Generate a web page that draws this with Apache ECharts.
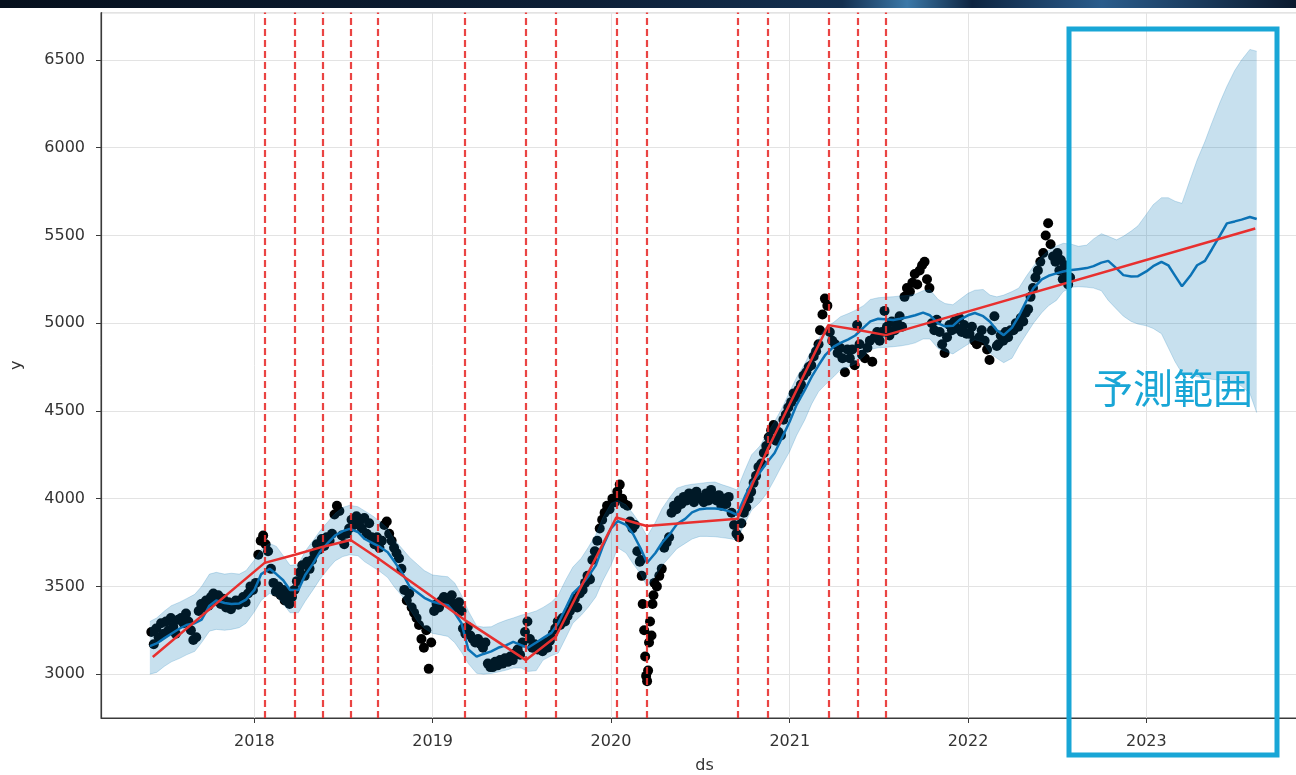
<!DOCTYPE html>
<html>
<head>
<meta charset="utf-8">
<script src="https://cdn.jsdelivr.net/npm/echarts@6/dist/echarts.min.js"></script>
<style>
    html, body { margin: 0; padding: 0; background: #ffffff; }
    #chart { width: 1296px; height: 775px; }
</style>
</head>
<body>
<div id="chart"></div>
<script>
// observed y, one row per month from 2017-06, samples spread over the month
const obs_start = [2017, 6];
const obs_rows = [
    [3240, 3170, 3260, 3210, 3290, 3230],
    [3300, 3250, 3320, 3270, 3230, 3310],
    [3320, 3290, 3345, 3300, 3250, 3195],
    [3210, 3360, 3400, 3380, 3420, 3390],
    [3440, 3460, 3420, 3450, 3400, 3430],
    [3380, 3410, 3370, 3400, 3420, 3395],
    [3420, 3440, 3410, 3460, 3500, 3480],
    [3520, 3680, 3760, 3790, 3740, 3700],
    [3600, 3520, 3470, 3500, 3450, 3480],
    [3420, 3460, 3400, 3440, 3480, 3530],
    [3580, 3620, 3560, 3640, 3600, 3650],
    [3690, 3740, 3710, 3770, 3730, 3780],
    [3760, 3800, 3910, 3960, 3930, 3790],
    [3740, 3800, 3830, 3880, 3850, 3900],
    [3870, 3830, 3890, 3800, 3860, 3780],
    [3740, 3780, 3720, 3760, 3850, 3870],
    [3800, 3760, 3720, 3690, 3660, 3600],
    [3480, 3420, 3460, 3380, 3350, 3320],
    [3280, 3200, 3150, 3250, 3030, 3180],
    [3360, 3400, 3380, 3420, 3440, 3410],
    [3430, 3450, 3400, 3380, 3410, 3360],
    [3260, 3230, 3270, 3220, 3200, 3180],
    [3200, 3170, 3150, 3180, 3060, 3040],
    [3040, 3070, 3050, 3080, 3060, 3090],
    [3070, 3100, 3080, 3120, 3140, 3110],
    [3180, 3240, 3300, 3200, 3150, 3170],
    [3140, 3160, 3130, 3180, 3150, 3190],
    [3230, 3260, 3300, 3280, 3320, 3300],
    [3330, 3360, 3400, 3430, 3380, 3460],
    [3480, 3520, 3560, 3540, 3650, 3700],
    [3760, 3830, 3880, 3920, 3960, 3940],
    [4000, 3980, 4040, 4080, 4000, 3970],
    [3960, 3870, 3830, 3850, 3700, 3640],
    [3650, 3560, 3400, 3250, 3100, 2990, 2960, 3020, 3180, 3300, 3220, 3400, 3450, 3520],
    [3500, 3560, 3600, 3720, 3750, 3780],
    [3920, 3960, 3940, 3990, 3970, 4010],
    [3990, 4030, 4000, 3980, 4040, 4010],
    [4000, 3980, 4030, 3990, 4050, 4010],
    [3990, 4020, 3960, 4000, 3970, 4010],
    [3920, 3850, 3800, 3780, 3860, 3920],
    [3950, 4000, 4040, 4090, 4130, 4180],
    [4200, 4260, 4300, 4350, 4390, 4420],
    [4330, 4380, 4360, 4450, 4480, 4520],
    [4550, 4600, 4580, 4620, 4650, 4700],
    [4720, 4750, 4760, 4810, 4840, 4880],
    [4960, 5050, 5140, 5100, 4950, 4900],
    [4880, 4830, 4860, 4800, 4720, 4850],
    [4800, 4850, 4760, 4990, 4880, 4820],
    [4800, 4860, 4900, 4780, 4920, 4950],
    [4900, 4950, 5070, 4980, 4930, 5010],
    [4960, 5000, 5040, 4980, 5150, 5200],
    [5180, 5230, 5280, 5220, 5300, 5330],
    [5350, 5250, 5200, 5000, 4960, 5020],
    [4950, 4880, 4830, 4920, 4990, 4960],
    [5010, 4970, 5030, 4950, 4990, 4940],
    [4940, 4980, 4900, 4880, 4920, 4960],
    [4900, 4850, 4790, 4960, 5040, 4870],
    [4880, 4930, 4900, 4950, 4920, 4960],
    [4960, 5000, 4980, 5030, 5010, 5060],
    [5080, 5150, 5200, 5260, 5300, 5350],
    [5400, 5500, 5570, 5450, 5380, 5350],
    [5400, 5300, 5360, 5250, 5330, 5270, 5220, 5260]
];

// forecast, two samples a month (1st and 15th) from 2017-06
const fc_start = [2017, 6];
const yhat = [
    3160, 3175, 3205, 3230, 3260, 3280, 3290, 3310, 3390, 3420, 3405, 3400, 3403, 3425,
    3480, 3570, 3600, 3570, 3535, 3480, 3480, 3565, 3630, 3695, 3750, 3790, 3815, 3828, 3810, 3770, 3745, 3725, 3695, 3640, 3570, 3498, 3465, 3435,
    3412, 3403, 3393, 3350, 3290, 3140, 3100, 3115, 3130, 3150, 3165, 3184, 3165, 3150, 3180, 3205, 3235, 3290, 3380, 3460, 3505, 3555, 3620, 3726,
    3830, 3872, 3850, 3800, 3720, 3635, 3690, 3750, 3800, 3855, 3885, 3922, 3940, 3944, 3944, 3940, 3926, 3908, 4010, 4090, 4150, 4205, 4260, 4340,
    4440, 4535, 4620, 4695, 4760, 4820, 4866, 4888, 4908, 4930, 4975, 5010, 5025, 5022, 5018, 5025, 5035, 5045, 5060, 5045, 4999, 4982, 4985, 5020,
    5045, 5058, 5040, 5008, 4960, 4932, 4975, 5040, 5130, 5200, 5250, 5270, 5284, 5295, 5303, 5308, 5314, 5325, 5345, 5355, 5312, 5274, 5266, 5268,
    5295, 5325, 5350, 5330, 5270, 5210, 5270, 5330, 5355, 5420, 5500, 5569, 5580, 5590, 5605, 5594
];
const yhat_upper = [
    3300, 3320, 3360, 3390, 3410, 3430, 3455, 3500, 3570, 3580, 3570, 3575, 3570, 3590,
    3650, 3710, 3745, 3728, 3675, 3620, 3625, 3700, 3760, 3815, 3870, 3915, 3950, 3962, 3954, 3930, 3900, 3870, 3830, 3765, 3710, 3665, 3625, 3590,
    3565, 3560, 3555, 3520, 3450, 3360, 3275, 3268, 3270, 3290, 3308, 3320, 3336, 3345, 3360, 3380, 3410, 3450, 3540, 3610, 3660, 3720, 3795, 3890,
    3973, 3990, 3965, 3915, 3855, 3785, 3865, 3945, 4010, 4060, 4075, 4082, 4087, 4092, 4095, 4080, 4065, 4050, 4160, 4250, 4300, 4370, 4440, 4510,
    4610, 4690, 4770, 4850, 4910, 4975, 5005, 5037, 5055, 5073, 5100, 5135, 5145, 5148, 5151, 5155, 5158, 5165, 5185, 5190, 5135, 5112, 5105, 5135,
    5170, 5188, 5192, 5160, 5150, 5160, 5180, 5200, 5270, 5325, 5380, 5415, 5440, 5455, 5450, 5438, 5445, 5480, 5510, 5495, 5475, 5495, 5525, 5555,
    5620, 5675, 5715, 5715, 5695, 5683, 5820, 5930, 6035, 6140, 6260, 6350, 6440, 6500, 6560, 6550
];
const yhat_lower = [
    3000, 3010, 3045, 3070, 3090, 3110, 3130, 3180, 3245, 3255, 3250, 3255, 3265, 3290,
    3355, 3420, 3460, 3445, 3400, 3350, 3350, 3415, 3480, 3540, 3600, 3645, 3670, 3680, 3675, 3640, 3610, 3585, 3550, 3495, 3440, 3370, 3300, 3260,
    3232, 3225, 3215, 3180, 3125, 3060, 3005, 3000, 3004, 3012, 3023, 3035, 3035, 3015, 3020, 3080, 3105, 3120, 3210, 3290, 3335, 3380, 3440, 3530,
    3620, 3720, 3690, 3630, 3574, 3500, 3560, 3620, 3670, 3715, 3745, 3770, 3785, 3785, 3783, 3778, 3772, 3764, 3860, 3935, 3980, 4030, 4110, 4185,
    4270, 4360, 4450, 4540, 4610, 4650, 4695, 4735, 4750, 4768, 4810, 4850, 4860, 4862, 4866, 4870, 4878, 4888, 4910, 4910, 4855, 4840, 4825, 4850,
    4880, 4905, 4890, 4830, 4800, 4775, 4800, 4870, 4940, 5000, 5060, 5100, 5130, 5180, 5205, 5208, 5205, 5200, 5185, 5130, 5080, 5040, 5010, 4995,
    4985, 4970, 4940, 4860, 4780, 4715, 4705, 4695, 4688, 4680, 4676, 4676, 4670, 4640, 4600, 4490
];

// piecewise trend and the changepoints found
const trend_dates = ['2017-06-07', '2018-01-22', '2018-03-25', '2018-05-20', '2018-07-17', '2018-09-11',
    '2019-03-08', '2019-07-11', '2019-09-10', '2020-01-12', '2020-03-14', '2020-09-16', '2020-11-16',
    '2021-03-21', '2021-05-21', '2021-07-17', '2023-08-12'];
const trend_values = [3098, 3634, 3680, 3725, 3764, 3660, 3308, 3080, 3213, 3893, 3844, 3885, 4277,
    4989, 4961, 4932, 5540];
const changepoints = trend_dates.slice(1, -1);

const note_text = '予測範囲';

const FONT = '"DejaVu Sans", "Liberation Sans", sans-serif';
const BLUE = '#0b72b5';
const RED = '#e8302f';
const CYAN = '#19a6d6';

function obs_data() {
    const out = [];
    obs_rows.forEach((row, m) => {
        row.forEach((v, k) => {
            const day = 1 + (k + 0.5) * 30 / row.length;
            out.push([new Date(obs_start[0], obs_start[1] - 1 + m, Math.round(day)).getTime(), v]);
        });
    });
    return out;
}

function fc_dates() {
    return yhat.map((v, i) => new Date(fc_start[0], fc_start[1] - 1 + Math.floor(i / 2), i % 2 ? 15 : 1).getTime());
}

const dates = fc_dates();
const line = (arr) => arr.map((v, i) => [dates[i], v]);
const band = (v, i) => [dates[i], yhat_upper[i] - yhat_lower[i]];

const chart = echarts.init(document.getElementById('chart'));
chart.setOption({
    animation: false,
    backgroundColor: '#ffffff',
    grid: {
        left: 101, right: -12, top: 12.6, bottom: 57,
        outerBoundsMode: 'none',
        containLabel: false,
        show: true, borderColor: '#3a3a3a', borderWidth: 1
    },
    xAxis: {
        type: 'time',
        min: '2017-02-21',
        max: '2023-11-28',
        splitNumber: 7,
        minInterval: 365 * 24 * 3600 * 1000,
        name: 'ds',
        nameLocation: 'middle',
        nameGap: 40,
        nameTextStyle: {color: '#333', fontSize: 16, fontFamily: FONT},
        axisLine: {show: true, lineStyle: {color: '#3a3a3a', width: 1.2}},
        axisTick: {show: true, length: 5, lineStyle: {color: '#3a3a3a'}},
        axisLabel: {
            color: '#333', fontSize: 16, fontFamily: FONT, margin: 16,
            showMinLabel: false, showMaxLabel: false,
            formatter: (v) => String(new Date(v).getFullYear())
        },
        splitLine: {show: true, lineStyle: {color: '#e3e3e3', width: 1}}
    },
    yAxis: {
        type: 'value',
        min: 2750,
        max: 6770,
        splitNumber: 8,
        name: 'y',
        nameLocation: 'middle',
        nameGap: 76,
        nameTextStyle: {color: '#333', fontSize: 16, fontFamily: FONT},
        axisLine: {show: true, lineStyle: {color: '#3a3a3a', width: 1.2}},
        axisTick: {show: true, length: 5, lineStyle: {color: '#3a3a3a'}},
        axisLabel: {
            color: '#333', fontSize: 16, fontFamily: FONT, margin: 16,
            showMinLabel: false, showMaxLabel: false,
            formatter: (v) => String(v)
        },
        splitLine: {show: true, lineStyle: {color: '#e3e3e3', width: 1}}
    },
    series: [
        {
            type: 'scatter',
            name: 'y',
            data: obs_data(),
            symbolSize: 10,
            itemStyle: {color: '#000000', opacity: 1},
            silent: true
        },
        {
            type: 'line',
            name: 'yhat',
            data: line(yhat),
            symbol: 'none',
            lineStyle: {color: BLUE, width: 2.5},
            silent: true
        },
        {
            type: 'line',
            name: 'lower',
            stack: 'band',
            data: line(yhat_lower),
            symbol: 'none',
            lineStyle: {color: 'rgba(0,114,178,0.25)', width: 0.8},
            silent: true
        },
        {
            type: 'line',
            name: 'upper',
            stack: 'band',
            data: yhat.map(band),
            symbol: 'none',
            lineStyle: {color: 'rgba(0,114,178,0.25)', width: 0.8},
            areaStyle: {color: 'rgba(0,114,178,0.22)', opacity: 1},
            silent: true
        },
        {
            type: 'line',
            name: 'trend',
            data: trend_dates.map((d, i) => [d, trend_values[i]]),
            symbol: 'none',
            lineStyle: {color: RED, width: 2.5},
            silent: true,
            markLine: {
                silent: true,
                symbol: ['none', 'none'],
                label: {show: false},
                lineStyle: {color: RED, width: 2.2, type: [7, 4], opacity: 0.9},
                data: changepoints.map(d => ({xAxis: d}))
            }
        }
    ],
    graphic: [
        {
            type: 'rect',
            shape: {x: 0, y: 0, width: 1296, height: 8},
            style: {
                fill: new echarts.graphic.LinearGradient(0, 0, 1, 0, [
                    {offset: 0, color: '#06101d'},
                    {offset: 0.45, color: '#0d1f36'},
                    {offset: 0.65, color: '#143050'},
                    {offset: 0.7, color: '#3b78a8'},
                    {offset: 0.75, color: '#0e2440'},
                    {offset: 0.85, color: '#2a5c8c'},
                    {offset: 1, color: '#0b1a2e'}
                ])
            },
            z: 100
        },
        {
            type: 'rect',
            shape: {x: 1069, y: 29, width: 208, height: 726},
            style: {fill: 'none', stroke: CYAN, lineWidth: 5},
            z: 100
        },
        {
            type: 'text',
            x: 1093,
            y: 388,
            style: {
                text: note_text,
                fill: CYAN,
                fontSize: 40,
                fontFamily: '"Noto Sans CJK JP", sans-serif',
                verticalAlign: 'middle'
            },
            z: 100
        }
    ]
});
</script>
</body>
</html>
